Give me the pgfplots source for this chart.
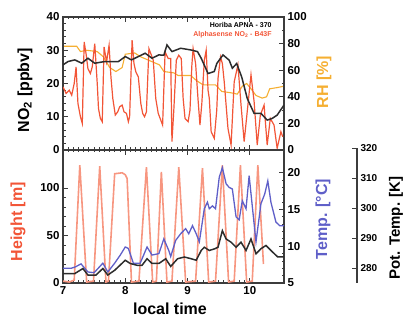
\documentclass[border=0pt]{standalone}
\usepackage{fontspec}
\setmainfont{Liberation Sans}
\usepackage{pgfplots}
\pgfplotsset{compat=1.18}
\definecolor{alph}{RGB}{242,85,55}
\definecolor{hgt}{RGB}{247,150,128}
\definecolor{tblue}{RGB}{95,95,200}
\definecolor{rhc}{RGB}{245,175,50}
\definecolor{hor}{RGB}{45,45,45}
\definecolor{frm}{RGB}{60,60,60}
\pgfplotsset{
  base/.style={scale only axis, width=221pt, height=133pt, xmin=7, xmax=10.55,
    axis line style={frm, line width=1.3pt},
    tick style={frm, line width=0.9pt},
    major tick length=5pt, minor tick length=2.5pt,
    /pgf/number format/assume math mode=true,
    tick label style={font=\bfseries\fontsize{11.5}{12}\selectfont},
    label style={font=\bfseries\fontsize{16}{16}\selectfont},
    xtick={7,8,9,10}, minor x tick num=11},
}
\begin{document}
\begin{tikzpicture}
\path[use as bounding box] (0,0) rectangle (407pt,321pt);
% ---------- top panel: RH (right) ----------
\begin{axis}[base, at={(63pt,171pt)}, anchor=south west,
  axis y line*=right, axis x line=none,
  ymin=0, ymax=100, ytick={0,20,40,60,80,100}, minor y tick num=1,
  ylabel={RH [\%]},
  ylabel style={at={(axis description cs:1.181,0.51)}, anchor=center, text=rhc}]
\addplot[rhc, line width=1.1pt] coordinates {
(7.00,78)(7.22,78)(7.28,74)(7.38,75)(7.55,74)(7.65,70)(7.75,62)(7.85,59)(7.95,62)
(8.00,72)(8.15,73)(8.25,70)(8.40,67)(8.55,64)(8.62,59)(8.78,58)(8.85,56)(9.05,56)
(9.15,52)(9.25,49)(9.45,49)(9.55,44)(9.70,43)(9.80,42)(9.88,48)(9.95,50)(10.02,46)
(10.10,41)(10.20,39)(10.27,40)(10.32,46)(10.45,47)(10.55,48)};
\end{axis}
% ---------- top panel: NO2 (left) ----------
\begin{axis}[base, at={(63pt,171pt)}, anchor=south west,
  ymin=0, ymax=40, ytick={0,10,20,30,40}, minor y tick num=4,
  ytick pos=left, xticklabels={},
  ylabel={NO\textsubscript{2} [ppbv]},
  ylabel style={at={(axis description cs:-0.172,0.45)}, anchor=center}]
\addplot[alph, line width=1.2pt] coordinates {
(7.00,19.0)(7.05,17.0)(7.10,18.0)(7.14,16.5)(7.18,20.0)(7.21,25.0)(7.24,14.0)(7.28,10.0)
(7.31,8.0)(7.34,32.5)(7.37,29.0)(7.40,24.5)(7.44,23.0)(7.47,25.0)(7.51,32.0)(7.55,20.0)
(7.57,12.5)(7.60,9.5)(7.63,8.5)(7.66,31.0)(7.70,26.5)(7.74,31.5)(7.77,22.0)(7.80,15.5)
(7.84,10.5)(7.88,11.5)(7.91,13.0)(7.95,13.5)(7.98,11.5)(8.02,11.0)(8.05,8.5)(8.07,10.0)
(8.11,33.0)(8.14,26.0)(8.17,23.5)(8.21,22.0)(8.25,14.0)(8.28,11.0)(8.31,10.0)(8.34,11.5)
(8.38,30.5)(8.42,28.5)(8.45,27.0)(8.49,15.5)(8.53,11.0)(8.56,9.5)(8.60,7.5)(8.64,29.5)
(8.69,27.5)(8.73,27.5)(8.75,2.5)(8.78,12.0)(8.82,27.0)(8.86,28.5)(8.90,27.5)(8.93,15.5)
(8.96,9.5)(9.01,8.5)(9.04,12.0)(9.07,25.5)(9.09,30.5)(9.13,26.0)(9.17,15.0)(9.20,7.5)
(9.23,14.0)(9.27,27.0)(9.30,30.0)(9.33,18.0)(9.35,15.5)(9.38,5.5)(9.43,3.5)(9.47,12.0)
(9.49,21.5)(9.53,28.0)(9.56,26.0)(9.59,20.5)(9.65,6.5)(9.70,1.5)(9.75,20.5)(9.81,25.6)
(9.86,13.5)(9.91,2.5)(9.97,13.5)(10.02,22.6)(10.07,14.5)(10.12,1.5)(10.17,10.5)(10.23,13.5)
(10.28,1.5)(10.33,9.5)(10.39,7.5)(10.44,0.5)(10.50,5.5)(10.53,4.0)};
\addplot[hor, line width=1.5pt] coordinates {
(7.00,25.6)(7.08,26.6)(7.19,27.1)(7.30,26.1)(7.40,27.6)(7.51,26.1)(7.67,26.6)(7.89,26.6)
(8.00,28.1)(8.10,27.1)(8.21,28.1)(8.32,29.1)(8.43,27.6)(8.54,28.6)(8.62,28.5)(8.67,31.6)
(8.75,29.6)(8.89,30.6)(9.05,30.1)(9.16,29.6)(9.22,27.6)(9.33,23.0)(9.43,23.6)(9.47,26.0)
(9.57,28.6)(9.67,27.0)(9.72,24.6)(9.79,26.0)(9.87,22.0)(9.96,15.5)(10.07,11.0)(10.18,11.0)
(10.28,9.0)(10.36,9.5)(10.44,10.5)(10.55,13.5)};
\node[anchor=east, font=\bfseries\fontsize{7}{7}\selectfont, text=black] at (axis description cs:0.96,0.94) {Horiba APNA - 370};
\node[anchor=east, font=\bfseries\fontsize{7}{7}\selectfont, text=alph] at (axis description cs:0.96,0.865) {Alphasense NO\textsubscript{2} - B43F};
\end{axis}
% ---------- bottom panel: Height (left) ----------
\begin{axis}[base, at={(63pt,38pt)}, anchor=south west,
  ymin=0, ymax=140, ytick={0,50,100}, minor y tick num=4,
  ytick pos=left,
  xlabel={local time},
  xlabel style={at={(axis description cs:0.484,-0.195)}, anchor=center},
  ylabel={Height [m]},
  ylabel style={at={(axis description cs:-0.204,0.46)}, anchor=center, text=alph}]
\addplot[hgt, line width=1.6pt] coordinates {
(7.00,2)(7.10,1)(7.18,3)(7.27,124)(7.38,1)(7.49,2)(7.59,123)(7.69,1)(7.73,2)(7.83,115)
(7.95,116)(8.00,114)(8.03,110)(8.10,1)(8.22,2)(8.34,122)(8.44,1)(8.50,2)(8.58,117)(8.67,1)
(8.75,2)(8.86,122)(8.97,1)(9.13,2)(9.24,121)(9.34,1)(9.45,2)(9.56,124)(9.66,1)(9.75,2)
(9.85,124)(9.95,1)(10.04,2)(10.13,124)(10.22,20)};
\end{axis}
% ---------- bottom panel: Temp (right) ----------
\begin{axis}[base, at={(63pt,38pt)}, anchor=south west,
  axis y line*=right, axis x line=none,
  ymin=5, ymax=23.1, ytick={5,10,15,20}, minor y tick num=4,
  ylabel={Temp. [°C]},
  ylabel style={at={(axis description cs:1.176,0.48)}, anchor=center, text=tblue}]
\addplot[tblue, line width=1.3pt] coordinates {
(7.00,7.0)(7.13,7.0)(7.20,7.2)(7.29,7.6)(7.40,6.5)(7.50,6.4)(7.64,7.7)(7.72,6.5)(7.83,7.7)
(7.92,8.8)(8.00,9.9)(8.05,9.7)(8.13,7.7)(8.24,7.7)(8.35,9.9)(8.43,8.8)(8.54,9.0)(8.62,11.0)
(8.70,9.4)(8.73,8.6)(8.81,10.8)(8.89,11.7)(8.97,12.4)(9.02,11.7)(9.08,12.8)(9.14,11.7)
(9.19,10.6)(9.27,15.1)(9.32,16.0)(9.35,15.1)(9.40,15.5)(9.45,15.1)(9.51,19.4)(9.56,20.7)
(9.62,18.5)(9.67,18.0)(9.72,17.8)(9.78,14.0)(9.83,13.6)(9.88,16.2)(9.94,15.1)(9.99,19.6)
(10.04,15.5)(10.10,10.6)(10.18,15.8)(10.24,17.1)(10.29,18.9)(10.34,16.0)(10.42,13.3)
(10.48,12.8)(10.55,12.8)};
\end{axis}
% ---------- bottom panel: potential temperature data ----------
\begin{axis}[base, at={(63pt,38pt)}, anchor=south west, hide axis,
  ymin=275, ymax=320]
\addplot[hor, line width=1.5pt] coordinates {
(7.00,278.2)(7.19,278.2)(7.32,279.9)(7.40,277.7)(7.53,277.7)(7.64,279.9)(7.72,277.7)
(7.83,279.3)(8.00,282.7)(8.08,281.6)(8.19,281.0)(8.27,281.0)(8.35,283.2)(8.43,281.6)
(8.54,281.6)(8.65,283.2)(8.73,280.6)(8.84,283.2)(8.95,283.8)(9.06,283.2)(9.14,282.7)
(9.22,286.0)(9.27,287.1)(9.35,286.0)(9.44,286.6)(9.49,287.1)(9.56,292.7)(9.62,289.9)
(9.70,288.8)(9.78,287.1)(9.86,288.8)(9.94,286.0)(10.02,289.9)(10.10,284.9)(10.18,286.6)
(10.26,287.7)(10.34,286.0)(10.45,283.8)(10.55,283.8)};
\end{axis}
% ---------- separate potential temperature axis ----------
\begin{axis}[scale only axis, width=10pt, height=135pt, at={(347pt,38pt)}, anchor=south west,
  xmin=0, xmax=1, ymin=275, ymax=320,
  axis y line*=right, axis x line=none,
  axis line style={frm, line width=1.3pt},
  tick style={frm, line width=0.9pt}, major tick length=5pt,
  ytick={280,290,300,310,320}, minor y tick num=0,
  /pgf/number format/assume math mode=true,
  /pgf/number format/1000 sep={},
  tick label style={font=\bfseries\fontsize{10}{10}\selectfont}]
\end{axis}
\node[rotate=90, font=\bfseries\fontsize{15}{15}\selectfont, anchor=center] at (396pt,93pt) {Pot. Temp. [K]};
\end{tikzpicture}
\end{document}
